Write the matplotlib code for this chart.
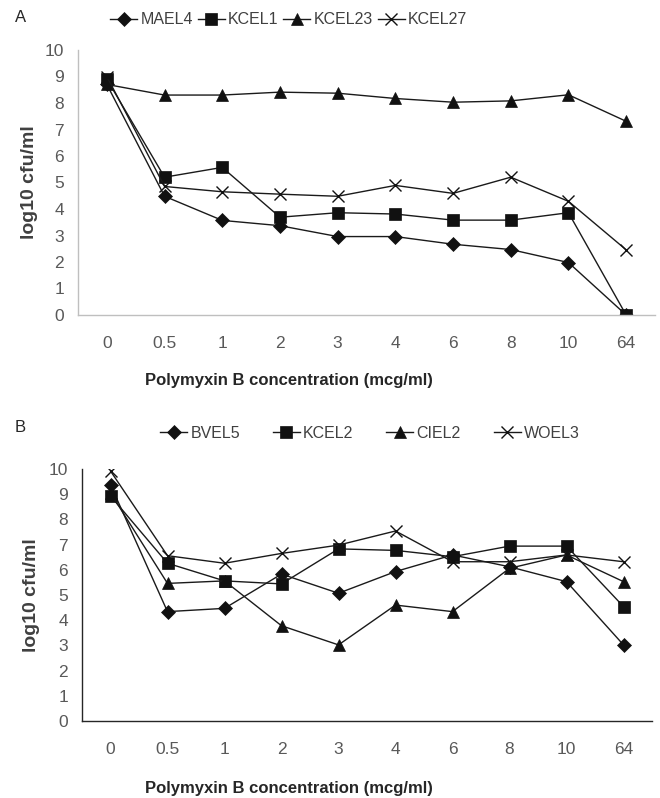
import matplotlib
matplotlib.use('Agg')
import matplotlib.pyplot as plt

plt.rcParams['font.family'] = ['Liberation Sans', 'DejaVu Sans']

conc = ['0', '0.5', '1', '2', '3', '4', '6', '8', '10', '64']

# panel A
mael4 = [8.7, 4.48, 3.57, 3.37, 2.96, 2.96, 2.67, 2.47, 1.98, 0.0]
kcel1 = [8.9, 5.2, 5.57, 3.69, 3.86, 3.81, 3.58, 3.58, 3.86, 0.0]
kcel23 = [8.7, 8.3, 8.3, 8.41, 8.37, 8.17, 8.03, 8.08, 8.31, 7.31]
kcel27 = [9.0, 4.85, 4.65, 4.56, 4.48, 4.89, 4.59, 5.2, 4.29, 2.46]

# panel B
bvel5 = [9.37, 4.34, 4.47, 5.83, 5.07, 5.93, 6.59, 6.12, 5.53, 3.02]
kcel2 = [8.93, 6.26, 5.56, 5.44, 6.83, 6.77, 6.52, 6.94, 6.94, 4.54]
ciel2 = [9.05, 5.46, 5.56, 3.78, 3.02, 4.6, 4.34, 6.06, 6.59, 5.53]
woel3 = [9.92, 6.56, 6.26, 6.65, 6.98, 7.54, 6.32, 6.32, 6.59, 6.32]

W, H = 660, 798
fig = plt.figure(figsize=(W / 100, H / 100), dpi=100)

tick_col = '#595959'
markers = ['D', 's', '^', 'x']
msizes = [7, 8, 8, 9]


def panel(rect, series, names, spine_col, letter, letter_y, leg_y, leg_x, colsp, xlab_y, ylpad):
    l, t, r, b = rect
    ax = fig.add_axes([l / W, 1 - b / H, (r - l) / W, (b - t) / H])
    x = list(range(len(conc)))
    for s, name, m, ms in zip(series, names, markers, msizes):
        ax.plot(x, s, color='#1a1a1a', lw=1.0, marker=m, ms=ms, mfc='#111111',
                mec='#111111', mew=1.0 if m == 'x' else 0.5, label=name)
    ax.set_xlim(-0.5, 9.5)
    ax.set_ylim(0, 10)
    ax.set_yticks(range(11))
    ax.set_xticks(x)
    ax.set_xticklabels(conc)
    for sp in ['top', 'right']:
        ax.spines[sp].set_visible(False)
    for sp in ['left', 'bottom']:
        ax.spines[sp].set_color(spine_col)
        ax.spines[sp].set_linewidth(1.0)
    ax.tick_params(axis='both', length=0, labelsize=12.5, labelcolor=tick_col)
    ax.tick_params(axis='x', pad=15)
    ax.tick_params(axis='y', pad=10)
    ax.set_ylabel('log10 cfu/ml', fontsize=14, fontweight='bold', color='#404040', labelpad=ylpad)
    fig.text(289 / W, 1 - xlab_y / H, 'Polymyxin B concentration (mcg/ml)', fontsize=12,
             fontweight='bold', color='#262626', ha='center', va='center')
    fig.text(15 / W, 1 - letter_y / H, letter, fontsize=12, color='#262626', va='center')
    ax.legend(loc='center left', bbox_to_anchor=(leg_x / W, 1 - leg_y / H),
              bbox_transform=fig.transFigure, ncol=4, frameon=False, fontsize=11.5,
              handlelength=1.7, handletextpad=0.2, columnspacing=colsp,
              labelcolor='#404040', borderaxespad=0, borderpad=0)
    return ax


panel((78, 50, 655, 315), [mael4, kcel1, kcel23, kcel27],
      ['MAEL4', 'KCEL1', 'KCEL23', 'KCEL27'], '#bfbfbf', 'A', 18, 20, 110, 0.3, 380, 5)
panel((82, 469, 652, 721), [bvel5, kcel2, ciel2, woel3],
      ['BVEL5', 'KCEL2', 'CIEL2', 'WOEL3'], '#262626', 'B', 427, 433, 160, 2.05, 789, 6)

fig.savefig('out.png', dpi=100)
